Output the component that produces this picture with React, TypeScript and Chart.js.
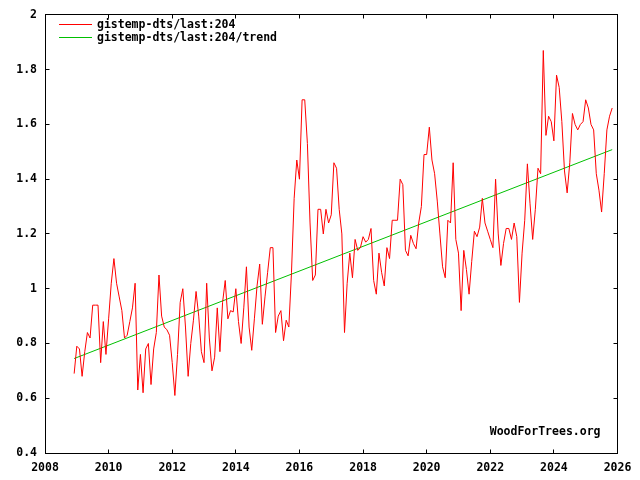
import React, { useEffect, useRef } from "react";
import { Chart, registerables } from "chart.js";

Chart.register(...registerables);

// ---- data ----
const startYear = 2008;
const startMonthIndex = 11; // December (0-based)
const anomalies = [
  0.69, 0.79, 0.78, 0.68, 0.77, 0.84, 0.82, 0.94, 0.94, 0.94,
  0.73, 0.88, 0.76, 0.89, 1.02, 1.11, 1.02, 0.97, 0.92, 0.82,
  0.83, 0.88, 0.93, 1.02, 0.63, 0.76, 0.62, 0.78, 0.80, 0.65,
  0.78, 0.84, 1.05, 0.90, 0.86, 0.85, 0.83, 0.73, 0.61, 0.76,
  0.95, 1.00, 0.86, 0.68, 0.80, 0.885, 0.99, 0.90, 0.77, 0.73,
  1.02, 0.82, 0.70, 0.75, 0.93, 0.77, 0.95, 1.03, 0.89, 0.92,
  0.915, 1.00, 0.88, 0.80, 0.93, 1.08, 0.86, 0.775, 0.89, 1.01,
  1.09, 0.87, 0.97, 1.06, 1.15, 1.15, 0.84, 0.90, 0.92, 0.81,
  0.885, 0.86, 1.06, 1.33, 1.47, 1.40, 1.69, 1.69, 1.53, 1.24,
  1.03, 1.05, 1.29, 1.29, 1.20, 1.29, 1.24, 1.27, 1.46, 1.44,
  1.29, 1.20, 0.84, 1.02, 1.13, 1.04, 1.18, 1.14, 1.15, 1.19,
  1.17, 1.18, 1.22, 1.03, 0.98, 1.13, 1.06, 1.01, 1.15, 1.11,
  1.25, 1.25, 1.25, 1.40, 1.38, 1.14, 1.12, 1.195, 1.165, 1.146,
  1.24, 1.30, 1.49, 1.49, 1.59, 1.47, 1.42, 1.32, 1.20, 1.08,
  1.04, 1.25, 1.24, 1.46, 1.18, 1.13, 0.92, 1.14, 1.07, 0.98,
  1.10, 1.21, 1.19, 1.225, 1.33, 1.24, 1.21, 1.18, 1.15, 1.40,
  1.20, 1.085, 1.165, 1.22, 1.22, 1.18, 1.24, 1.19, 0.95, 1.13,
  1.25, 1.456, 1.31, 1.18, 1.29, 1.44, 1.42, 1.87, 1.56, 1.63,
  1.61, 1.54, 1.78, 1.735, 1.61, 1.43, 1.35, 1.46, 1.64, 1.60,
  1.58, 1.60, 1.61, 1.69, 1.66, 1.60, 1.58, 1.42, 1.36, 1.28,
  1.42, 1.58, 1.63, 1.66,
];
const trendValues = [0.745, 1.508]; // trend at first and last month
const xTicks = [2008, 2010, 2012, 2014, 2016, 2018, 2020, 2022, 2024, 2026];
const yTicks = [0.4, 0.6, 0.8, 1, 1.2, 1.4, 1.6, 1.8, 2];
const seriesLabels = ["gistemp-dts/last:204", "gistemp-dts/last:204/trend"];
const seriesColors = ["#ff0000", "#00c000"];
const watermark = "WoodForTrees.org";

const FONT_FAMILY = "'DejaVu Sans Mono', 'Liberation Mono', monospace";
const FONT_SIZE = 11.5;
const CSS_FONT = `bold ${FONT_SIZE}px ${FONT_FAMILY}`;

const monthTime = (i: number) => startYear + (startMonthIndex + i) / 12;

const framePlugin = {
  id: "wftFrame",
  afterDraw(chart: any) {
    const { ctx, chartArea: a, scales } = chart;
    const xs = scales.x;
    const ys = scales.y;
    const L = Math.floor(a.left) + 0.5;
    const R = Math.floor(a.right) + 0.5;
    const T = Math.floor(a.top) + 0.5;
    const B = Math.floor(a.bottom) + 0.5;
    ctx.save();
    ctx.strokeStyle = "#000";
    ctx.lineWidth = 1;
    ctx.strokeRect(L, T, R - L, B - T);
    const tl = 4;
    ctx.beginPath();
    xTicks.forEach((v) => {
      const px = Math.floor(xs.getPixelForValue(v)) + 0.5;
      if (px <= L + 1 || px >= R - 1) return;
      ctx.moveTo(px, B);
      ctx.lineTo(px, B - tl);
      ctx.moveTo(px, T);
      ctx.lineTo(px, T + tl);
    });
    yTicks.forEach((v) => {
      const py = Math.floor(ys.getPixelForValue(v)) + 0.5;
      if (py <= T + 1 || py >= B - 1) return;
      ctx.moveTo(L, py);
      ctx.lineTo(L + tl, py);
      ctx.moveTo(R, py);
      ctx.lineTo(R - tl, py);
    });
    ctx.stroke();

    // legend
    ctx.font = CSS_FONT;
    ctx.textBaseline = "middle";
    ctx.textAlign = "left";
    chart.data.datasets.forEach((ds: any, i: number) => {
      const yy = Math.floor(a.top) + 10 + i * 13;
      ctx.strokeStyle = ds.borderColor;
      ctx.beginPath();
      ctx.moveTo(a.left + 14, yy + 0.5);
      ctx.lineTo(a.left + 47, yy + 0.5);
      ctx.stroke();
      ctx.fillStyle = "#000";
      ctx.fillText(ds.label, a.left + 52, yy + 1);
    });

    // watermark
    ctx.textAlign = "right";
    ctx.fillText(watermark, a.right - 17, a.bottom - 21);
    ctx.restore();
  },
};

export default function App() {
  const ref = useRef<HTMLCanvasElement | null>(null);

  useEffect(() => {
    if (!ref.current) return;
    const n = anomalies.length;
    const chart = new Chart(ref.current, {
      type: "line",
      data: {
        datasets: [
          {
            label: seriesLabels[0],
            data: anomalies.map((v, i) => ({ x: monthTime(i), y: v })),
            borderColor: seriesColors[0],
            borderWidth: 1,
            pointRadius: 0,
            tension: 0,
            fill: false,
          },
          {
            label: seriesLabels[1],
            data: [
              { x: monthTime(0), y: trendValues[0] },
              { x: monthTime(n - 1), y: trendValues[1] },
            ],
            borderColor: seriesColors[1],
            borderWidth: 1,
            pointRadius: 0,
            tension: 0,
            fill: false,
          },
        ],
      },
      options: {
        animation: false,
        responsive: true,
        maintainAspectRatio: false,
        parsing: false as any,
        layout: { padding: { top: 14, right: 22.5, left: 0, bottom: 0 } },
        plugins: { legend: { display: false }, tooltip: { enabled: false } },
        scales: {
          x: {
            type: "linear",
            min: xTicks[0],
            max: xTicks[xTicks.length - 1],
            grid: { display: false, drawTicks: false },
            border: { display: false },
            afterFit: (s: any) => {
              s.height = 27;
            },
            afterBuildTicks: (s: any) => {
              s.ticks = xTicks.map((v) => ({ value: v }));
            },
            ticks: {
              autoSkip: false,
              maxRotation: 0,
              padding: 8,
              color: "#000",
              font: { family: FONT_FAMILY, size: FONT_SIZE, weight: "bold" },
              callback: (v: any) => String(v),
            },
          },
          y: {
            type: "linear",
            min: yTicks[0],
            max: yTicks[yTicks.length - 1],
            grid: { display: false, drawTicks: false },
            border: { display: false },
            afterFit: (s: any) => {
              s.width = 45;
            },
            afterBuildTicks: (s: any) => {
              s.ticks = yTicks.map((v) => ({ value: v }));
            },
            ticks: {
              padding: 8,
              color: "#000",
              font: { family: FONT_FAMILY, size: FONT_SIZE, weight: "bold" },
              callback: (v: any) => String(Math.round(Number(v) * 10) / 10),
            },
          },
        },
      },
      plugins: [framePlugin],
    } as any);
    return () => chart.destroy();
  }, []);

  return (
    <div
      style={{
        position: "absolute",
        left: 0,
        top: 0,
        width: 640,
        height: 480,
        background: "#fff",
      }}
    >
      <canvas ref={ref} />
    </div>
  );
}
